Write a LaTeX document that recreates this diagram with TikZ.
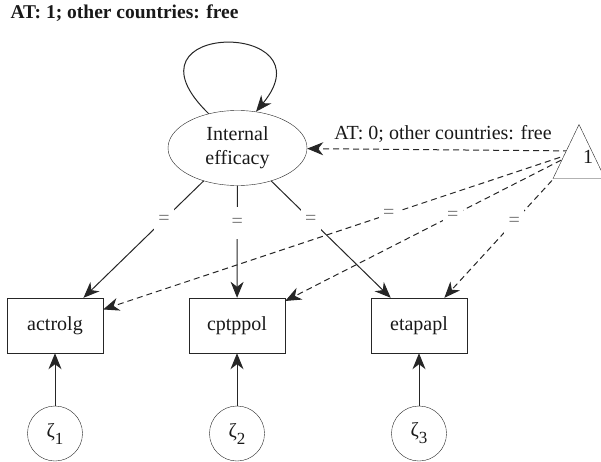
\documentclass[tikz,border=0pt]{standalone}
\usepackage{fontspec}
\setmainfont{Liberation Serif}
\usetikzlibrary{arrows.meta,shapes.geometric}
\newcommand{\zet}[1]{ζ\raisebox{-7pt}{\fontsize{17}{18}\selectfont #1}}
\tikzset{
    every node/.style={font=\fontsize{20}{24}\selectfont, text=black!90},
    obs/.style={rectangle, draw=black!85, minimum width=96pt, minimum height=55pt,
    	inner sep=0pt},
    lat/.style={ellipse, draw=black!85, minimum width=139pt, minimum height=75pt,
    	inner sep=0pt, align=center},
    err/.style={circle, draw=black!85, minimum size=55pt, inner sep=0pt},
    one/.style={isosceles triangle, shape border rotate=90, isosceles triangle stretches,
    	draw=black!85, fill=white, minimum width=52pt, minimum height=54pt, inner sep=0pt},
    eq/.style={fill=white, text=black!55, minimum width=20pt, minimum height=32pt,
    	inner sep=0pt}
}
\tikzset{
    arr/.style={line width=1pt, draw=black!85, -{Stealth[length=16pt,width=13pt,inset=5pt]}},
    every edge/.append style={arr}
}
\tikzset{
	fixed/.style={dash pattern=on 6pt off 4pt}
}
\pgfdeclarelayer{background}
\pgfsetlayers{background,main}

\begin{document}
\begin{tikzpicture}[x=1pt,y=-1pt]
	\useasboundingbox (0,0) rectangle (601,462);
	\node (title) [anchor=base west, font=\bfseries\fontsize{19.5}{24}\selectfont]
		at (7,19) {AT: 1; other countries: free};
	\node (eff) [lat] at (237.5,148) {Internal\\efficacy};
	\node (actrolg) [obs] at (55,325.5) {actrolg};
	\node (cptppol) [obs] at (237,325.5) {cptppol};
	\node (etapapl) [obs] at (419,325.5) {etapapl};
	\node (z1) [err] at (55,433.5) {\zet{1}};
	\node (z2) [err] at (237,433.5) {\zet{2}};
	\node (z3) [err] at (419,433.5) {\zet{3}};
	\node (tri) [one, anchor=apex] at (579,124) {};
	\node (onetxt) at (588,157) {1};
	\coordinate (src) at (579,151);
	
	\draw[arr] (eff.130) .. controls (112,20) and (332,20) .. (eff.63);
	
	\draw (eff) edge node[eq, pos=.33] {=} (actrolg);
	\draw (eff) edge node[eq, pos=.33] {=} (cptppol);
	\draw (eff) edge node[eq, pos=.33] {=} (etapapl);
	
	\begin{pgfonlayer}{background}
		\draw (src) edge [fixed] node[pos=.5, anchor=base, yshift=10pt]
			{AT: 0; other countries: free} (eff);
		\draw (src) edge [fixed] node[eq, pos=.4] {=} (actrolg);
		\draw (src) edge [fixed] node[eq, pos=.43] {=} (cptppol);
		\draw (src) edge [fixed] node[eq, pos=.48] {=} (etapapl);
	\end{pgfonlayer}
	
	\draw (z1) edge (actrolg); \draw (z2) edge (cptppol); \draw (z3) edge (etapapl);
\end{tikzpicture}
\end{document}
